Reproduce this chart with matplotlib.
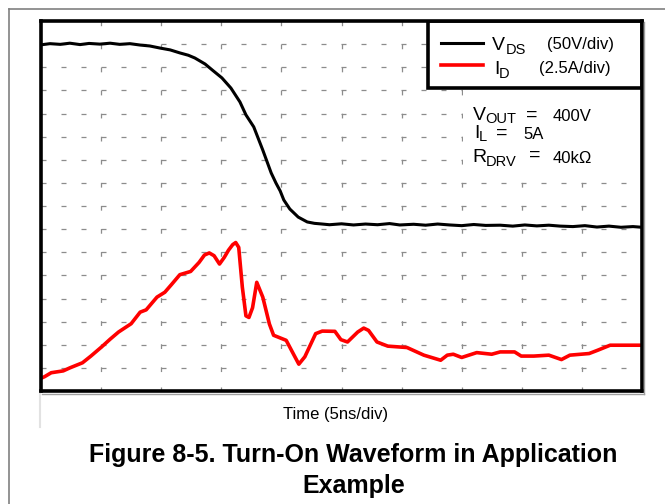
import matplotlib
matplotlib.use("Agg")
import matplotlib.pyplot as plt
from matplotlib.patches import Rectangle
from matplotlib.lines import Line2D

plt.rcParams['font.family'] = ['Liberation Sans', 'DejaVu Sans']
plt.rcParams['lines.scale_dashes'] = False

# scope trace, all values in screen divisions (10 x 16)
vds_t = [0.00, 0.15, 0.32, 0.48, 0.65, 0.80, 0.98, 1.15, 1.31, 1.48,
         1.65, 1.81, 1.98, 2.15, 2.31, 2.45, 2.56, 2.73, 2.85, 3.01,
         3.16, 3.31, 3.41, 3.54, 3.69, 3.83, 3.91, 3.98, 4.04, 4.14,
         4.28, 4.43, 4.55, 4.68, 4.80, 5.00, 5.20,
         5.40, 5.60, 5.80, 5.97, 6.20, 6.40, 6.60, 6.80, 7.00, 7.20,
         7.40, 7.64, 7.85, 8.05, 8.25, 8.45, 8.64, 8.85, 9.05, 9.25,
         9.45, 9.65, 9.85, 10.0]
vds_v = [14.97, 15.02, 14.99, 15.04, 14.98, 15.03, 15.00, 15.04, 14.99, 15.02,
         14.96, 14.92, 14.83, 14.75, 14.62, 14.52, 14.40, 14.14, 13.88, 13.54,
         13.10, 12.50, 11.94, 11.42, 10.42, 9.43, 8.99, 8.65, 8.26, 7.87,
         7.52, 7.31, 7.25, 7.22, 7.19, 7.23, 7.18,
         7.22, 7.19, 7.24, 7.18, 7.21, 7.17, 7.22, 7.18, 7.15, 7.20,
         7.16, 7.17, 7.13, 7.18, 7.14, 7.17, 7.13, 7.11, 7.15, 7.09,
         7.13, 7.08, 7.11, 7.08]

id_t = [0.00, 0.06, 0.17, 0.37, 0.48, 0.69, 0.83, 1.01, 1.15, 1.29,
        1.50, 1.65, 1.75, 1.93, 2.06, 2.17, 2.31, 2.49, 2.63, 2.72,
        2.80, 2.88, 2.97, 3.05, 3.12, 3.19, 3.24, 3.29, 3.35, 3.41,
        3.46, 3.52, 3.59, 3.69, 3.80, 3.87, 4.08, 4.20, 4.29, 4.39,
        4.57, 4.68, 4.89, 4.99, 5.10, 5.27, 5.37, 5.45, 5.59, 5.77,
        6.09, 6.37, 6.65, 6.76, 6.86, 7.00, 7.25, 7.50, 7.64, 7.88,
        7.99, 8.20, 8.45, 8.66, 8.80, 9.12, 9.26, 9.47, 9.93, 10.0]
id_v = [0.55, 0.62, 0.79, 0.87, 1.00, 1.22, 1.51, 1.91, 2.24, 2.55,
        2.91, 3.41, 3.51, 4.06, 4.27, 4.60, 5.03, 5.17, 5.56, 5.88,
        5.97, 5.85, 5.49, 5.78, 6.09, 6.33, 6.42, 6.21, 4.49, 3.25,
        3.18, 3.60, 4.70, 4.06, 2.90, 2.41, 2.19, 1.60, 1.16, 1.48,
        2.48, 2.59, 2.58, 2.22, 2.12, 2.55, 2.72, 2.62, 2.12, 1.94,
        1.88, 1.55, 1.33, 1.55, 1.59, 1.45, 1.66, 1.59, 1.69, 1.69,
        1.51, 1.51, 1.55, 1.36, 1.55, 1.62, 1.76, 1.98, 1.98, 1.98]

n_xdiv = 10
n_ydiv = 16

fig = plt.figure(figsize=(6.65, 5.04), dpi=100)
ax = fig.add_axes([41 / 665, 1 - 391 / 504, 601 / 665, 370 / 504])
ax.set_xlim(0, n_xdiv)
ax.set_ylim(0, n_ydiv)


def px(x, y):
    # page pixel -> screen divisions, only used to place the labels
    return (x - 41) / 60.1, (391 - y) / 23.125


def put(x, y, s, size, **kw):
    xd, yd = px(x, y)
    ax.text(xd, yd, s, fontsize=size, va='baseline', zorder=7, **kw)


# dashed scope graticule
gcol = '#8c8c8c'
for k in range(1, n_ydiv):
    ax.plot([0, n_xdiv], [k, k], color=gcol, lw=0.9, dashes=(3.6, 10.8), zorder=1)
for k in range(1, n_xdiv):
    ax.plot([k, k], [n_ydiv, 0], color=gcol, lw=0.9, dashes=(3.4, 13.2), zorder=1)

ax.set_xticks(range(1, n_xdiv))
ax.set_yticks([])
ax.tick_params(axis='x', direction='in', length=3, width=0.9, color=gcol,
               labelbottom=False)
for s in ax.spines.values():
    s.set_linewidth(2.6)
    s.set_zorder(6)

ax.plot(vds_t, vds_v, color='black', lw=2.2, zorder=4)
ax.plot(id_t, id_v, color='#ff0000', lw=2.6, zorder=4, solid_joinstyle='round')

# legend box
ax.add_patch(Rectangle(px(428, 88), 10 - px(428, 88)[0], 16 - px(428, 88)[1],
                       facecolor='white', edgecolor='black', lw=2.6, zorder=5))
x0, _ = px(441, 0)
x1, _ = px(483, 0)
ax.plot([x0, x1], [px(0, 42.7)[1]] * 2, color='black', lw=2.2, zorder=6)
ax.plot([x0, x1], [px(0, 65)[1]] * 2, color='#ff0000', lw=2.6, zorder=6)
put(492, 50, 'V', 14)
put(506, 53.5, 'DS', 10.5)
put(547, 49, '(50V/div)', 12)
put(494, 74, 'I', 14)
put(498.5, 77.5, 'D', 10.5)
put(539.5, 73, '(2.5A/div)', 12)

# conditions block
ax.add_patch(Rectangle((7.02, 9.3), 2.98, 3.76, facecolor='white',
                       edgecolor='none', zorder=2))
put(472.5, 120, 'V', 14)
put(485.5, 122.5, 'OUT', 10.5)
put(526, 120, '=', 14)
put(553, 120.5, '400V', 12)
put(474, 138, 'I', 14)
put(478.5, 141, 'L', 10.5)
put(496, 138, '=', 14)
put(523.5, 138.5, '5A', 12)
put(472.5, 162, 'R', 14)
put(486, 165.5, 'DRV', 10.5)
put(529, 160, '=', 14)
put(553, 163, '40k\u03a9', 12)

fig.text(336 / 665, 1 - 418.7 / 504, 'Time (5ns/div)', fontsize=12,
         ha='center', va='baseline')
fig.text(353.5 / 665, 1 - 461.7 / 504, 'Figure 8-5. Turn-On Waveform in Application',
         fontsize=18, fontweight='bold', ha='center', va='baseline')
fig.text(353.5 / 665, 1 - 493.3 / 504, 'Example',
         fontsize=18, fontweight='bold', ha='center', va='baseline')

# page frame and small shadow lines
fig.add_artist(Line2D([9 / 665, 9 / 665], [1 - 9 / 504, 0], color='#808080', lw=1.2))
fig.add_artist(Line2D([9 / 665, 1], [1 - 9 / 504, 1 - 9 / 504], color='#808080', lw=1.2))
fig.add_artist(Line2D([40 / 665, 40 / 665], [1 - 394 / 504, 1 - 427 / 504],
                      color='#e2e2e2', lw=1.5))
fig.add_artist(Line2D([644 / 665, 644 / 665], [1 - 22 / 504, 1 - 394 / 504],
                      color='#a0a0a0', lw=1.0))
fig.add_artist(Line2D([42 / 665, 644 / 665], [1 - 394 / 504, 1 - 394 / 504],
                      color='#a0a0a0', lw=1.0))

fig.savefig('out.png', dpi=100)
